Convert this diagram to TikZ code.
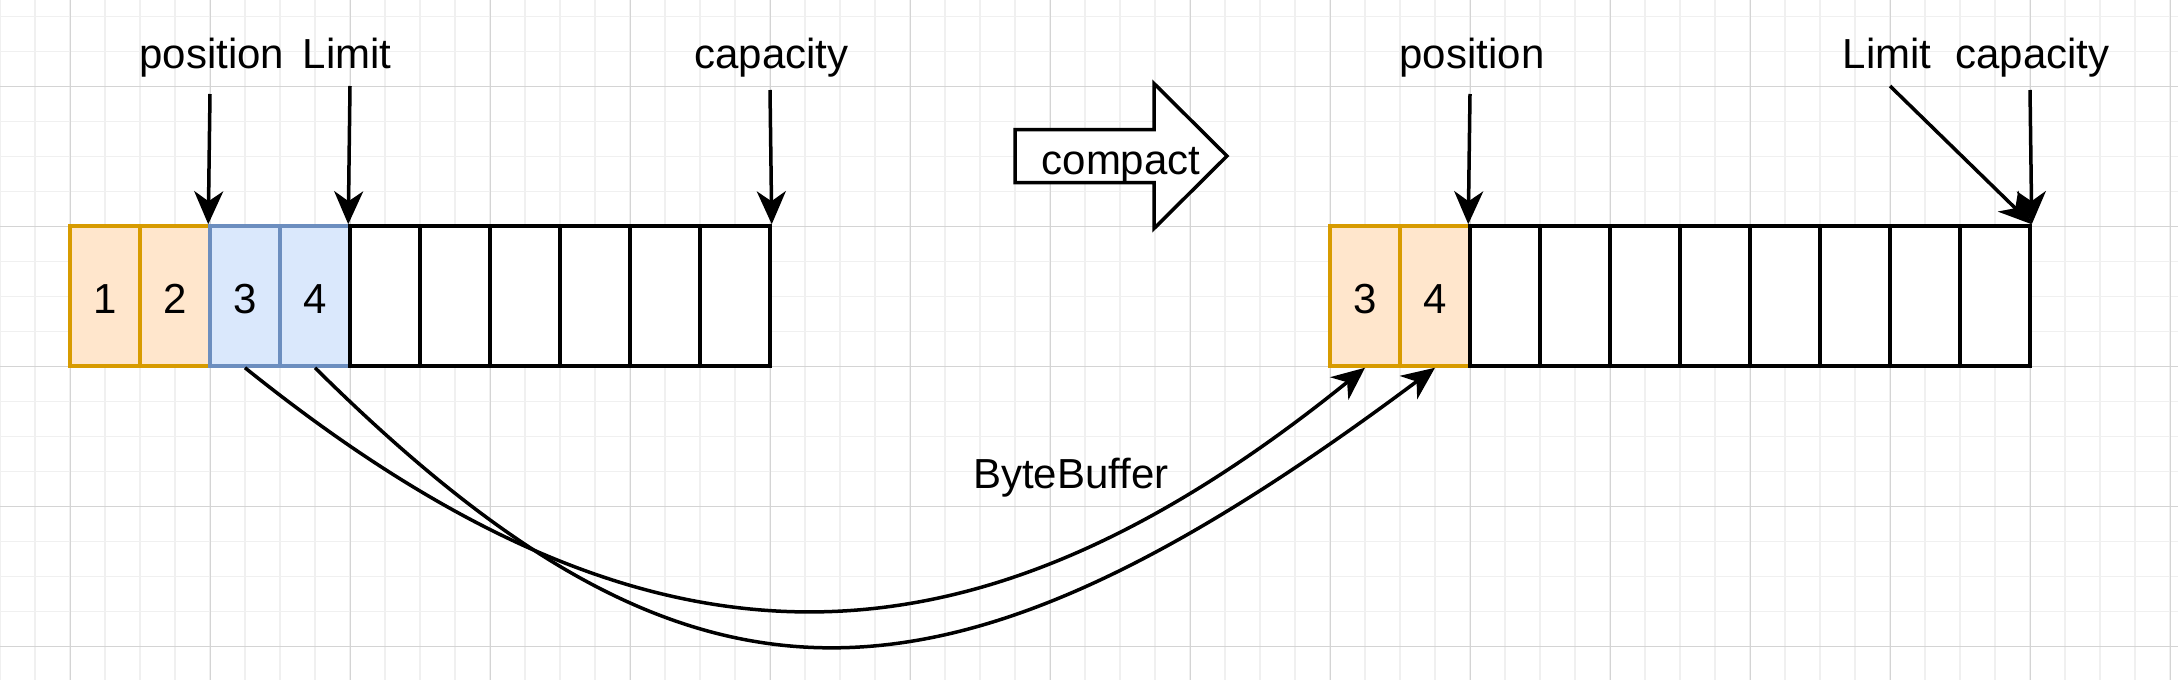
\documentclass[tikz,border=0pt]{standalone}
\usepackage{fontspec}
\setmainfont{Liberation Sans}
\usetikzlibrary{arrows.meta}
\definecolor{orangeF}{HTML}{FFE6CC}
\definecolor{orangeS}{HTML}{D79B00}
\definecolor{blueF}{HTML}{DAE8FC}
\definecolor{blueS}{HTML}{6C8EBF}
\definecolor{gridminor}{HTML}{F0F0F0}
\definecolor{gridmajor}{HTML}{D4D4D4}
\begin{document}
\begin{tikzpicture}[x=0.5pt, y=-0.5pt,
  cell/.style={draw=black, fill=white, line width=1.75pt, minimum width=35pt, minimum height=70pt,
    inner sep=0pt, text height=17pt, text depth=0pt, font=\fontsize{21}{25}\selectfont},
  orangecell/.style={cell, draw=orangeS, fill=orangeF},
  bluecell/.style={cell, draw=blueS, fill=blueF},
  lbl/.style={font=\fontsize{21}{25}\selectfont, anchor=base, inner sep=0pt},
  ptr/.style={line width=1.75pt, -{Stealth[length=16.5pt, width=14.5pt, inset=5pt]}},
  minorline/.style={draw=gridminor, line width=0.75pt},
  majorline/.style={draw=gridmajor, line width=0.5pt},
]
\fill[white] (0,0) rectangle (2178,680);
\useasboundingbox (0,0) rectangle (2178,680);
% grid
\foreach \i in {0,...,62} \draw[minorline] (35*\i,0) -- (35*\i,680);
\foreach \i in {0,...,18} \draw[minorline] (0,16.5+35*\i) -- (2178,16.5+35*\i);
\foreach \i in {0,...,15} \draw[majorline] (70+140*\i,0) -- (70+140*\i,680);
\foreach \i in {0,...,4} \draw[majorline] (0,86.5+140*\i) -- (2178,86.5+140*\i);

% left buffer
\node[orangecell] (L1) at (105,296) {1};
\node[orangecell] (L2) at (175,296) {2};
\node[bluecell] (L3) at (245,296) {3};
\node[bluecell] (L4) at (315,296) {4};
\foreach \i in {5,...,10} \node[cell] (L\i) at ({105+70*(\i-1)},296) {};

% right buffer
\node[orangecell] (R1) at (1365,296) {3};
\node[orangecell] (R2) at (1435,296) {4};
\foreach \i in {3,...,10} \node[cell] (R\i) at ({1365+70*(\i-1)},296) {};

% labels
\node[lbl] (posL) at (211.7,68.5) {position};
\node[lbl] (limL) at (347,68.5) {Limit};
\node[lbl] (capL) at (771.5,68.5) {capacity};
\node[lbl] (posR) at (1472,68.5) {position};
\node[lbl] (limR) at (1887,68.5) {Limit};
\node[lbl] (capR) at (2032.5,68.5) {capacity};

% pointer arrows
\coordinate (aPosL) at (210,94);
\coordinate (aLimL) at (350,86);
\coordinate (aCapL) at (770,90);
\coordinate (aPosR) at (1470,94);
\coordinate (aLimR) at (1890,86);
\coordinate (aCapR) at (2030,90);
\draw[ptr] (aPosL) -- (L3.north west);
\draw[ptr] (aLimL) -- (L5.north west);
\draw[ptr] (aCapL) -- (L10.north east);
\draw[ptr] (aPosR) -- (R3.north west);
\draw[ptr] (aLimR) -- (R10.north east);
\draw[ptr] (aCapR) -- (R10.north east);

% compact arrow
\draw[line width=1.75pt, fill=white, line join=miter]
  (1015,129.5) -- (1154,129.5) -- (1154,83.5) -- (1227,156) -- (1154,228.5) -- (1154,182.5) -- (1015,182.5) -- cycle;
\node[lbl] (compact) at (1121,174) {compact};

% curved moves
\draw[ptr] (L3.south) .. controls (647,691) and (965,691) .. (R1.south);
\draw[ptr] (L4.south) .. controls (690,739) and (938,739) .. (R2.south);
\node[lbl] (bb) at (1070.8,488.3) {ByteBuffer};
\end{tikzpicture}
\end{document}
